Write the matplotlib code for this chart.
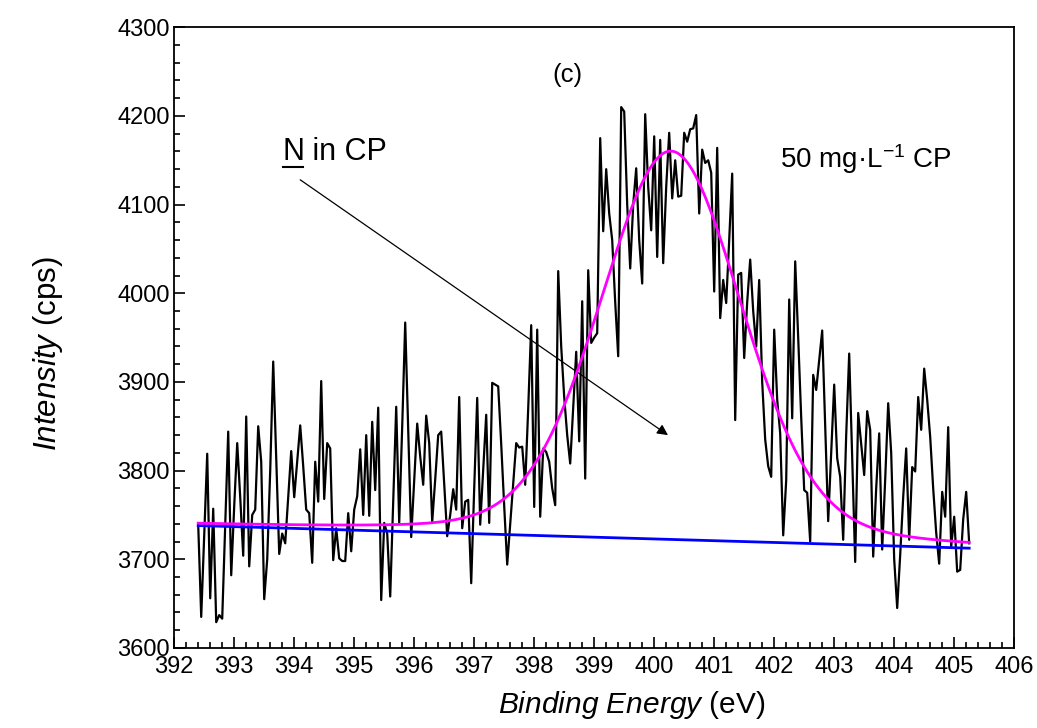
import numpy as np
import matplotlib
matplotlib.use("Agg")
import matplotlib.pyplot as plt
from matplotlib.ticker import MultipleLocator
from matplotlib.lines import Line2D

plt.rcParams['font.family'] = ['Liberation Sans', 'DejaVu Sans']
plt.rcParams['mathtext.fontset'] = 'custom'
plt.rcParams['mathtext.rm'] = 'Liberation Sans'
plt.rcParams['mathtext.it'] = 'Liberation Sans:italic'

# ---- data ----
e_start = 392.40
e_step = 0.05
intensity = [
    3739, 3635, 3727, 3819, 3656, 3757, 3629, 3637, 3633, 3740,
    3844, 3682, 3760, 3831, 3770, 3704, 3861, 3692, 3750, 3756,
    3850, 3810, 3655, 3700, 3800, 3923, 3815, 3706, 3729, 3718,
    3770, 3822, 3770, 3810, 3851, 3805, 3756, 3752, 3696, 3810,
    3765, 3901, 3768, 3831, 3825, 3699, 3735, 3701, 3698, 3698,
    3752, 3709, 3756, 3771, 3824, 3750, 3840, 3749, 3855, 3778,
    3871, 3654, 3741, 3729, 3658, 3765, 3872, 3741, 3850, 3967,
    3845, 3725, 3790, 3853, 3816, 3784, 3862, 3831, 3742, 3790,
    3840, 3844, 3785, 3726, 3750, 3779, 3756, 3883, 3735, 3765,
    3767, 3673, 3780, 3882, 3739, 3800, 3863, 3741, 3899, 3897,
    3895, 3830, 3760, 3694, 3740, 3785, 3831, 3826, 3827, 3784,
    3870, 3964, 3759, 3959, 3748, 3825, 3821, 3810, 3780, 3761,
    4025, 3940, 3883, 3840, 3808, 3870, 3934, 3833, 3991, 3791,
    4026, 3944, 3950, 3955, 4175, 4070, 4140, 4090, 4060, 3990,
    3929, 4210, 4205, 4100, 4028, 4100, 4141, 4060, 4011, 4202,
    4120, 4071, 4177, 4041, 4173, 4034, 4120, 4181, 4107, 4150,
    4109, 4110, 4181, 4171, 4185, 4186, 4201, 4090, 4162, 4147,
    4150, 4136, 4002, 4164, 3972, 4015, 3989, 4060, 4135, 3857,
    4021, 4023, 3927, 3990, 4038, 3980, 3940, 4015, 3900, 3835,
    3805, 3793, 3959, 3880, 3842, 3727, 3789, 3993, 3859, 4036,
    3950, 3860, 3778, 3775, 3720, 3908, 3891, 3925, 3958, 3850,
    3743, 3820, 3897, 3814, 3793, 3722, 3840, 3932, 3815, 3697,
    3865, 3830, 3795, 3867, 3846, 3703, 3780, 3842, 3711, 3790,
    3876, 3820, 3700, 3645, 3705, 3770, 3825, 3722, 3804, 3799,
    3883, 3846, 3915, 3880, 3838, 3780, 3730, 3695, 3776, 3748,
    3849, 3714, 3748, 3686, 3688, 3745, 3776, 3718,
]
energy = e_start + e_step * np.arange(len(intensity))

# linear background end points
bg_energy = [392.40, 405.25]
bg_value = [3738, 3712.5]

# fitted N 1s component (pseudo-Voigt)
peak_center = 400.28
peak_height = 438
peak_fwhm = 2.8
peak_lorentz = 0.2

xticks = list(range(392, 407))
yticks = list(range(3600, 4301, 100))

# ---- figure ----
W, H = 1037, 728
fig = plt.figure(figsize=(W / 100, H / 100), dpi=100)
ax = fig.add_axes([0.168, 0.110, 0.810, 0.8525])

xf = np.linspace(bg_energy[0], bg_energy[1], 600)
bg = np.interp(xf, bg_energy, bg_value)
d = xf - peak_center
gauss = np.exp(-4 * np.log(2) * d**2 / peak_fwhm**2)
lor = 1.0 / (1 + 4 * d**2 / peak_fwhm**2)
fit = bg + peak_height * ((1 - peak_lorentz) * gauss + peak_lorentz * lor)

ax.plot(energy, intensity, color='black', lw=1.6, zorder=2)
ax.plot(bg_energy, bg_value, color='#0000FF', lw=2.0, zorder=3)
ax.plot(xf, fit, color='#FF00FF', lw=2.0, zorder=4)

ax.set_xlim(392, 406)
ax.set_ylim(3600, 4300)
ax.set_xticks(xticks)
ax.set_yticks(yticks)
ax.xaxis.set_minor_locator(MultipleLocator(0.2))
ax.yaxis.set_minor_locator(MultipleLocator(20))
ax.tick_params(which='both', direction='in', top=False, right=False,
               labelsize=17, width=1.2)
ax.tick_params(axis='x', which='major', pad=6)
ax.tick_params(axis='y', which='major', pad=3)
ax.tick_params(which='major', length=8)
ax.tick_params(which='minor', length=4)
for s in ax.spines.values():
    s.set_linewidth(1.3)

fig.text(632 / W, 1 - 705 / H, r'$\it{Binding\ Energy}$ (eV)', fontsize=21.5,
         ha='center', va='center')
fig.text(48 / W, 1 - 354 / H, r'$\it{Intensity}$ (cps)', fontsize=22.5,
         ha='center', va='center', rotation=90)

ax.text(398.55, 4246, '(c)', fontsize=18.5, ha='center', va='center')
tN = ax.text(393.8, 4150, 'N', fontsize=22, ha='left', va='baseline')
ax.text(402.1, 4151, r'50 mg·L$^{-1}$ CP', fontsize=20, ha='left', va='center')
ax.annotate('', xy=(400.23, 3840), xytext=(394.1, 4128),
            arrowprops=dict(arrowstyle='-|>', color='black', lw=0.9,
                            mutation_scale=16, shrinkA=0, shrinkB=0))

fig.canvas.draw()
r = fig.canvas.get_renderer()
bb = tN.get_window_extent(renderer=r)
inv = fig.transFigure.inverted()
(x0, y0) = inv.transform((bb.x0, bb.y0))
(x1, y1) = inv.transform((bb.x1, bb.y1))
ax.annotate(' in CP', xy=(1, 0), xycoords=tN, fontsize=22, ha='left', va='bottom')
uy = inv.transform((0, bb.y0 + bb.height * 0.12 - 3))[1]
fig.add_artist(Line2D([x0 + 0.001, x1 - 0.001], [uy, uy], color='black', lw=1.5,
                      transform=fig.transFigure))

fig.savefig('out.png', dpi=100)
